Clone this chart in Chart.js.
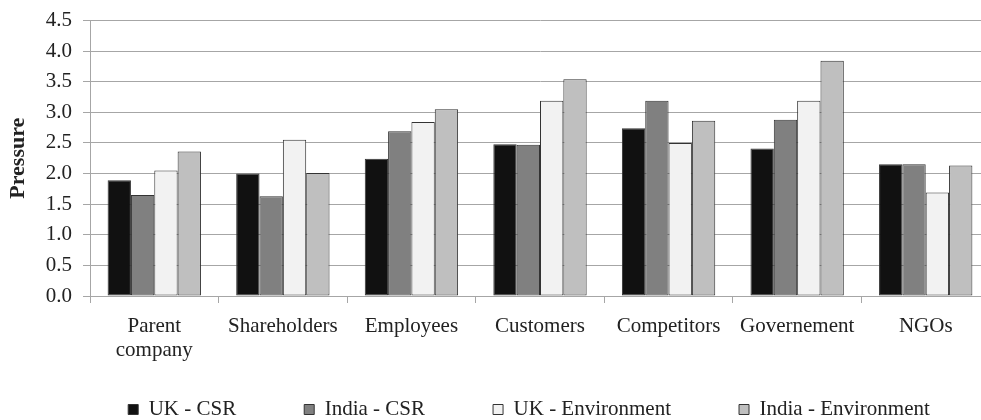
<!DOCTYPE html>
<html>
<head>
<meta charset="utf-8">
<script src="https://cdn.jsdelivr.net/npm/chart.js@4/dist/chart.umd.min.js"></script>
<style>
  html, body { margin: 0; padding: 0; background: #fff; overflow: hidden; }
  #wrap { position: relative; width: 995px; height: 420px; }
</style>
</head>
<body>
<div id="wrap"><canvas id="pressureChart"></canvas></div>
<script>
const categorias = [['Parent', 'company'], 'Shareholders', 'Employees', 'Customers', 'Competitors', 'Governement', 'NGOs'];
const ukCsr = [1.89, 2.0, 2.24, 2.48, 2.74, 2.41, 2.15];
const indiaCsr = [1.65, 1.63, 2.69, 2.47, 3.19, 2.88, 2.15];
const ukEnv = [2.05, 2.55, 2.84, 3.19, 2.5, 3.19, 1.69];
const indiaEnv = [2.36, 2.01, 3.05, 3.54, 2.86, 3.84, 2.13];
const series = ['UK - CSR', 'India - CSR', 'UK - Environment', 'India - Environment'];
const colores = ['#111111', '#808080', '#f2f2f2', '#bfbfbf'];

const FONT = "'Liberation Serif', 'Times New Roman', serif";
Chart.defaults.font.family = FONT;
Chart.defaults.color = '#222';

const valores = [ukCsr, indiaCsr, ukEnv, indiaEnv];

// la leyenda necesita mucho padding horizontal; la bajamos un poco y
// dejamos que las etiquetas de dos lineas no se recorten
const ajusteLayout = {
  id: 'ajusteLayout',
  afterLayout(chart) {
    const x = chart.scales.x;
    x.bottom = x.top + 70;
    const lg = chart.legend;
    lg.top += 10; lg.bottom += 10;
    lg.left += 34; lg.right += 34;
  }
};

new Chart(document.getElementById('pressureChart'), {
  type: 'bar',
  data: {
    labels: categorias,
    datasets: series.map((s, i) => ({
      label: s,
      data: valores[i],
      backgroundColor: colores[i],
      borderColor: '#333',
      borderWidth: 1,
      borderSkipped: false,
      barPercentage: 1,
      categoryPercentage: 0.726
    }))
  },
  plugins: [ajusteLayout],
  options: {
    responsive: true,
    maintainAspectRatio: false,
    animation: false,
    layout: { padding: { top: 6, right: 5, left: 0, bottom: 0 } },
    plugins: {
      tooltip: { enabled: false },
      legend: {
        position: 'bottom',
        labels: {
          font: { size: 21, family: FONT },
          boxWidth: 10,
          boxHeight: 10,
          padding: 68,
          color: '#222'
        }
      }
    },
    scales: {
      x: {
        grid: { display: true, drawOnChartArea: false, offset: true, tickLength: 7, color: '#a6a6a6' },
        border: { color: '#a6a6a6' },
        ticks: { font: { size: 21, lineHeight: 1.15 }, padding: 11, maxRotation: 0, autoSkip: false },
        afterFit: s => { s.height = 25; }
      },
      y: {
        min: 0,
        max: 4.5,
        grid: { color: '#a6a6a6', tickLength: 7 },
        border: { color: '#a6a6a6' },
        ticks: { stepSize: 0.5, font: { size: 21, lineHeight: 0.9 }, padding: 11, callback: v => v.toFixed(1) },
        title: { display: true, text: 'Pressure', font: { size: 22, weight: 'bold' }, padding: { top: 5, bottom: 0 } },
        afterFit: s => { s.width = 90; }
      }
    }
  }
});
</script>
</body>
</html>
